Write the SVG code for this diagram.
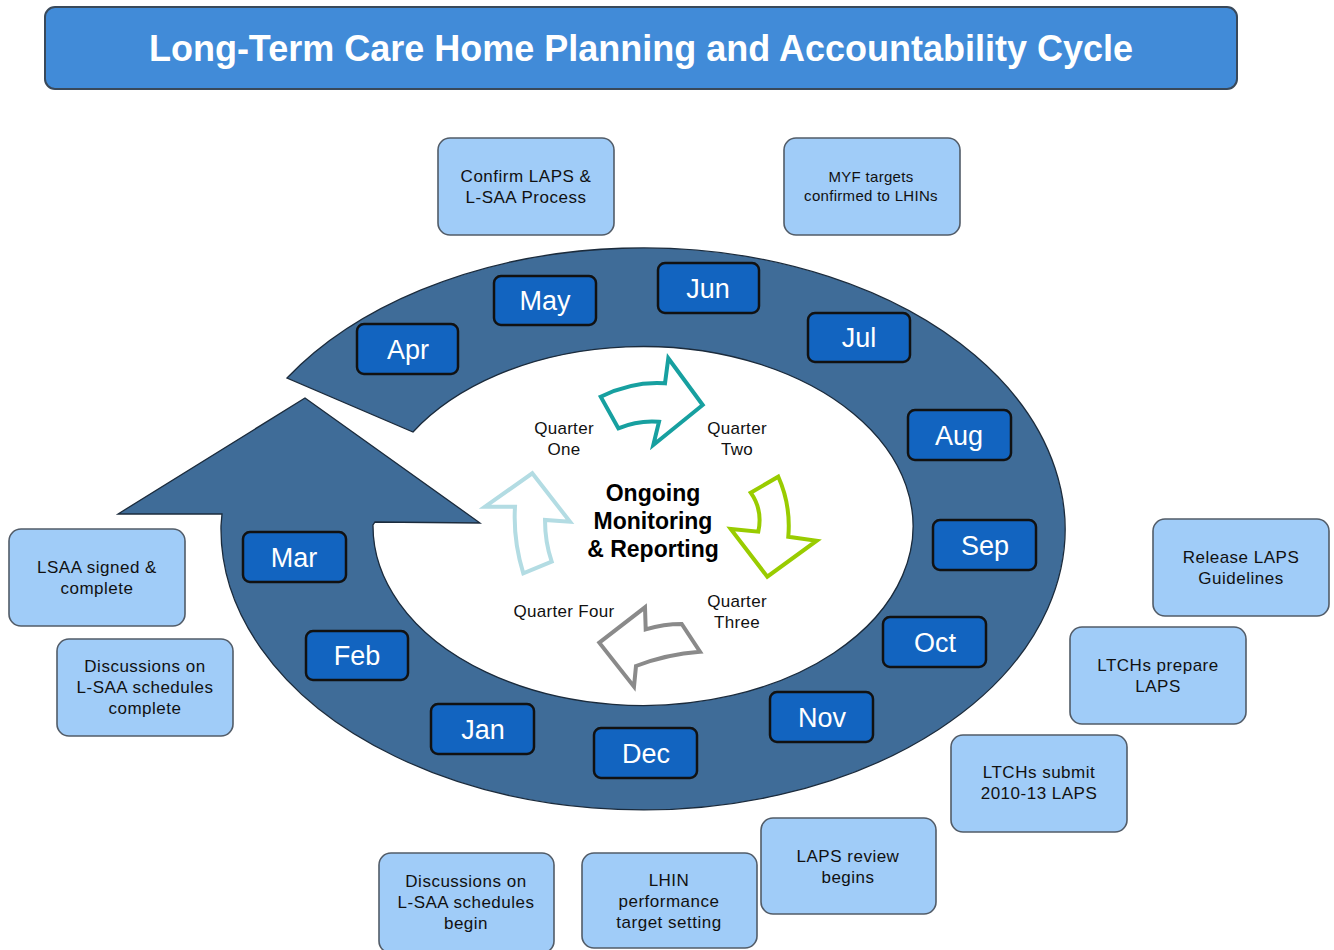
<svg xmlns="http://www.w3.org/2000/svg" width="1334" height="950" viewBox="0 0 1334 950">
  <defs>
    <style>
      .title-box { fill: #418bd8; stroke: #39495a; stroke-width: 2; }
      .title-text { font-family: "Liberation Sans", Arial, sans-serif; font-weight: bold; font-size: 36px; fill: #ffffff; text-anchor: middle; }
      .ring { fill: #3f6c98; stroke: #1b2b3c; stroke-width: 1.3; }
      .month rect { fill: #1264c0; stroke: #111111; stroke-width: 2.5; }
      .month text { font-family: "Liberation Sans", Arial, sans-serif; font-size: 27px; fill: #ffffff; text-anchor: middle; }
      .note rect { fill: #a0ccf8; stroke: #525c68; stroke-width: 1.6; }
      .note text { font-family: "Liberation Sans", Arial, sans-serif; font-size: 17px; fill: #111111; text-anchor: middle; letter-spacing: 0.5px; }
      .note text.small { font-size: 15px; letter-spacing: 0.3px; }
      .quarter { fill: #ffffff; stroke-width: 4; stroke-linejoin: miter; }
      .qlabel { font-family: "Liberation Sans", Arial, sans-serif; font-size: 17px; fill: #111111; text-anchor: middle; letter-spacing: 0.3px; }
      .core { font-family: "Liberation Sans", Arial, sans-serif; font-weight: bold; font-size: 23px; fill: #000000; text-anchor: middle; }
    </style>
  </defs>

  <rect width="1334" height="950" fill="#ffffff"/>

  <!-- Title banner -->
  <g id="title">
    <rect class="title-box" x="45" y="7" width="1192" height="82" rx="10"/>
    <text class="title-text" x="641" y="61">Long-Term Care Home Planning and Accountability Cycle</text>
  </g>

  <!-- Annual cycle: curved band ending in an arrowhead -->
  <g id="cycle-ring">
    <path class="ring" d="M287,378 A422,281 0 1 1 221,526 L222,514 L118,514 L305,398 L480,523 L375,522 L373,525 A270,179.5 0 1 0 413,432 Z"/>
  </g>

  <!-- Months -->
  <g id="month-apr" class="month"><rect x="357" y="324" width="101" height="50" rx="7"/><text x="408" y="359">Apr</text></g>
  <g id="month-may" class="month"><rect x="494" y="276" width="102" height="49" rx="7"/><text x="545" y="310">May</text></g>
  <g id="month-jun" class="month"><rect x="658" y="263" width="101" height="50" rx="7"/><text x="708" y="298">Jun</text></g>
  <g id="month-jul" class="month"><rect x="808" y="313" width="102" height="49" rx="7"/><text x="859" y="347">Jul</text></g>
  <g id="month-aug" class="month"><rect x="908" y="410" width="103" height="50" rx="7"/><text x="959" y="445">Aug</text></g>
  <g id="month-sep" class="month"><rect x="933" y="520" width="103" height="50" rx="7"/><text x="985" y="555">Sep</text></g>
  <g id="month-oct" class="month"><rect x="883" y="617" width="103" height="50" rx="7"/><text x="935" y="652">Oct</text></g>
  <g id="month-nov" class="month"><rect x="770" y="692" width="103" height="50" rx="7"/><text x="822" y="727">Nov</text></g>
  <g id="month-dec" class="month"><rect x="594" y="728" width="103" height="50" rx="7"/><text x="646" y="763">Dec</text></g>
  <g id="month-jan" class="month"><rect x="431" y="704" width="103" height="50" rx="7"/><text x="483" y="739">Jan</text></g>
  <g id="month-feb" class="month"><rect x="306" y="631" width="102" height="49" rx="7"/><text x="357" y="665">Feb</text></g>
  <g id="month-mar" class="month"><rect x="243" y="532" width="103" height="50" rx="7"/><text x="294" y="567">Mar</text></g>

  <!-- Quarterly arrows in the centre -->
  <g id="quarter-arrows">
    <path class="quarter" stroke="#17a0a0" d="M600.7,396.7 Q633,381 665,383.3 L668.3,358.3 L702.7,405 L653.3,445 L659,421.7 Q638,420 618.3,428.3 Z"/>
    <path class="quarter" stroke="#99cc00" d="M750.7,492.7 L778.3,476.7 Q791,505 788.3,536.7 L816.7,540.7 L767.3,576.7 L730.7,529 L758.3,531.7 Q763,510 750.7,492.7 Z"/>
    <path class="quarter" stroke="#8a8a8a" d="M599.3,642.7 L645,607.3 L645.7,629.3 Q664,624 681.7,624 L700,651.7 Q667,654 636,666 L634,686.7 Z"/>
    <path class="quarter" stroke="#b3dce3" d="M532.3,473.3 L570,521.7 L545,520 Q545,542 551.7,561.7 L523.3,573.3 Q513,540 515,506.7 L485,506.7 Z"/>
  </g>

  <!-- Centre labels -->
  <g id="centre">
    <text class="core" x="653" y="501">Ongoing</text>
    <text class="core" x="653" y="529">Monitoring</text>
    <text class="core" x="653" y="557">&amp; Reporting</text>
    <text class="qlabel" x="564" y="434">Quarter</text>
    <text class="qlabel" x="564" y="455">One</text>
    <text class="qlabel" x="737" y="434">Quarter</text>
    <text class="qlabel" x="737" y="455">Two</text>
    <text class="qlabel" x="737" y="607">Quarter</text>
    <text class="qlabel" x="737" y="628">Three</text>
    <text class="qlabel" x="564" y="617">Quarter Four</text>
  </g>

  <!-- Milestone notes -->
  <g id="note-confirm-laps" class="note">
    <rect x="438" y="138" width="176" height="97" rx="12"/>
    <text x="526" y="182">Confirm LAPS &amp;</text>
    <text x="526" y="203">L-SAA Process</text>
  </g>
  <g id="note-myf-targets" class="note">
    <rect x="784" y="138" width="176" height="97" rx="12"/>
    <text class="small" x="871" y="182">MYF targets</text>
    <text class="small" x="871" y="201">confirmed to LHINs</text>
  </g>
  <g id="note-release-guidelines" class="note">
    <rect x="1153" y="519" width="176" height="97" rx="12"/>
    <text x="1241" y="563">Release LAPS</text>
    <text x="1241" y="584">Guidelines</text>
  </g>
  <g id="note-ltchs-prepare" class="note">
    <rect x="1070" y="627" width="176" height="97" rx="12"/>
    <text x="1158" y="671">LTCHs prepare</text>
    <text x="1158" y="692">LAPS</text>
  </g>
  <g id="note-ltchs-submit" class="note">
    <rect x="951" y="735" width="176" height="97" rx="12"/>
    <text x="1039" y="778">LTCHs submit</text>
    <text x="1039" y="799">2010-13 LAPS</text>
  </g>
  <g id="note-laps-review" class="note">
    <rect x="761" y="818" width="175" height="96" rx="12"/>
    <text x="848" y="862">LAPS review</text>
    <text x="848" y="883">begins</text>
  </g>
  <g id="note-lhin-targets" class="note">
    <rect x="582" y="853" width="175" height="95" rx="12"/>
    <text x="669" y="886">LHIN</text>
    <text x="669" y="907">performance</text>
    <text x="669" y="928">target setting</text>
  </g>
  <g id="note-discussions-begin" class="note">
    <rect x="379" y="853" width="175" height="100" rx="12"/>
    <text x="466" y="887">Discussions on</text>
    <text x="466" y="908">L-SAA schedules</text>
    <text x="466" y="929">begin</text>
  </g>
  <g id="note-lsaa-signed" class="note">
    <rect x="9" y="529" width="176" height="97" rx="12"/>
    <text x="97" y="573">LSAA signed &amp;</text>
    <text x="97" y="594">complete</text>
  </g>
  <g id="note-discussions-complete" class="note">
    <rect x="57" y="639" width="176" height="97" rx="12"/>
    <text x="145" y="672">Discussions on</text>
    <text x="145" y="693">L-SAA schedules</text>
    <text x="145" y="714">complete</text>
  </g>
</svg>
